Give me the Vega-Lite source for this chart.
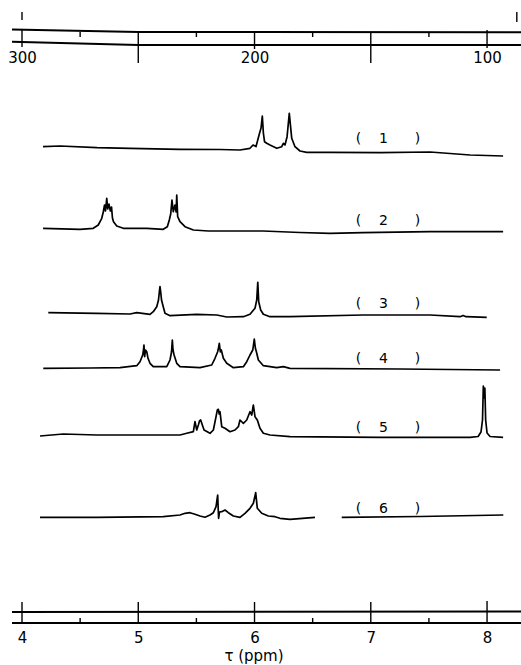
{
  "$schema": "https://vega.github.io/schema/vega-lite/v6.json",
  "width": 509,
  "height": 593,
  "padding": {"left": 12, "top": 30, "right": 0, "bottom": 42},
  "autosize": {"type": "none"},
  "background": "white",
  "config": {"view": {"stroke": null}, "font": "DejaVu Sans"},
  "datasets": {
    "spectra": [
      {"seg":"1","tau":4.181,"v":476.3},{"seg":"1","tau":4.327,"v":477},{"seg":"1","tau":4.645,"v":475.3},{"seg":"1","tau":4.929,"v":474.7},{"seg":"1","tau":5.359,"v":473.7},{"seg":"1","tau":5.703,"v":473.5},{"seg":"1","tau":5.875,"v":473},{"seg":"1","tau":5.961,"v":474.7},{"seg":"1","tau":5.987,"v":478},{"seg":"1","tau":6.013,"v":476.5},{"seg":"1","tau":6.039,"v":488},{"seg":"1","tau":6.056,"v":495},{"seg":"1","tau":6.067,"v":507},{"seg":"1","tau":6.076,"v":490},{"seg":"1","tau":6.086,"v":481.3},{"seg":"1","tau":6.105,"v":479.7},{"seg":"1","tau":6.133,"v":478},{"seg":"1","tau":6.191,"v":474.7},{"seg":"1","tau":6.234,"v":476.3},{"seg":"1","tau":6.248,"v":479.7},{"seg":"1","tau":6.262,"v":478},{"seg":"1","tau":6.28,"v":486.3},{"seg":"1","tau":6.299,"v":509.7},{"seg":"1","tau":6.32,"v":484.7},{"seg":"1","tau":6.348,"v":476.3},{"seg":"1","tau":6.391,"v":472},{"seg":"1","tau":6.449,"v":470.7},{"seg":"1","tau":6.649,"v":470.7},{"seg":"1","tau":7.08,"v":470.3},{"seg":"1","tau":7.51,"v":471},{"seg":"1","tau":7.854,"v":468},{"seg":"1","tau":8.138,"v":467},
      {"seg":"2","tau":4.181,"v":394.7},{"seg":"2","tau":4.499,"v":393.7},{"seg":"2","tau":4.613,"v":394.7},{"seg":"2","tau":4.656,"v":398},{"seg":"2","tau":4.686,"v":404.7},{"seg":"2","tau":4.699,"v":411},{"seg":"2","tau":4.71,"v":418},{"seg":"2","tau":4.718,"v":412},{"seg":"2","tau":4.729,"v":424.7},{"seg":"2","tau":4.737,"v":414},{"seg":"2","tau":4.748,"v":419},{"seg":"2","tau":4.76,"v":412},{"seg":"2","tau":4.77,"v":416},{"seg":"2","tau":4.778,"v":405},{"seg":"2","tau":4.787,"v":401.3},{"seg":"2","tau":4.815,"v":397},{"seg":"2","tau":4.871,"v":394.7},{"seg":"2","tau":5.073,"v":394.7},{"seg":"2","tau":5.215,"v":393.7},{"seg":"2","tau":5.25,"v":396.3},{"seg":"2","tau":5.267,"v":403},{"seg":"2","tau":5.279,"v":409},{"seg":"2","tau":5.29,"v":423},{"seg":"2","tau":5.301,"v":411.3},{"seg":"2","tau":5.316,"v":418},{"seg":"2","tau":5.326,"v":411},{"seg":"2","tau":5.331,"v":428},{"seg":"2","tau":5.339,"v":406.3},{"seg":"2","tau":5.359,"v":401.3},{"seg":"2","tau":5.402,"v":396.3},{"seg":"2","tau":5.474,"v":393},{"seg":"2","tau":5.603,"v":392},{"seg":"2","tau":6.073,"v":392},{"seg":"2","tau":6.391,"v":390.5},{"seg":"2","tau":6.649,"v":389.7},{"seg":"2","tau":6.933,"v":390.3},{"seg":"2","tau":7.51,"v":391.3},{"seg":"2","tau":8.138,"v":391.3},
      {"seg":"3","tau":4.226,"v":310.3},{"seg":"3","tau":4.643,"v":309.7},{"seg":"3","tau":4.929,"v":309},{"seg":"3","tau":4.987,"v":310.3},{"seg":"3","tau":5.101,"v":308.7},{"seg":"3","tau":5.129,"v":311.3},{"seg":"3","tau":5.159,"v":316.3},{"seg":"3","tau":5.174,"v":323},{"seg":"3","tau":5.183,"v":333},{"seg":"3","tau":5.187,"v":336.3},{"seg":"3","tau":5.193,"v":331},{"seg":"3","tau":5.2,"v":323},{"seg":"3","tau":5.215,"v":316.3},{"seg":"3","tau":5.23,"v":309.7},{"seg":"3","tau":5.273,"v":307.3},{"seg":"3","tau":5.503,"v":308.7},{"seg":"3","tau":5.675,"v":308},{"seg":"3","tau":5.761,"v":306},{"seg":"3","tau":5.904,"v":306.3},{"seg":"3","tau":5.961,"v":308.7},{"seg":"3","tau":6.004,"v":314.7},{"seg":"3","tau":6.019,"v":323},{"seg":"3","tau":6.028,"v":340.7},{"seg":"3","tau":6.036,"v":321.3},{"seg":"3","tau":6.053,"v":313},{"seg":"3","tau":6.076,"v":308.7},{"seg":"3","tau":6.133,"v":306.3},{"seg":"3","tau":6.305,"v":306.3},{"seg":"3","tau":6.933,"v":308},{"seg":"3","tau":7.51,"v":308},{"seg":"3","tau":7.768,"v":306.3},{"seg":"3","tau":7.794,"v":307.5},{"seg":"3","tau":7.819,"v":306.3},{"seg":"3","tau":7.997,"v":305.7},
      {"seg":"4","tau":4.183,"v":254.7},{"seg":"4","tau":4.585,"v":255},{"seg":"4","tau":4.843,"v":255.3},{"seg":"4","tau":4.987,"v":257.3},{"seg":"4","tau":5.015,"v":261.3},{"seg":"4","tau":5.038,"v":268},{"seg":"4","tau":5.045,"v":273},{"seg":"4","tau":5.049,"v":278},{"seg":"4","tau":5.055,"v":266.3},{"seg":"4","tau":5.062,"v":273},{"seg":"4","tau":5.073,"v":271.3},{"seg":"4","tau":5.084,"v":264.7},{"seg":"4","tau":5.101,"v":259.7},{"seg":"4","tau":5.129,"v":256.3},{"seg":"4","tau":5.245,"v":256.3},{"seg":"4","tau":5.273,"v":263},{"seg":"4","tau":5.286,"v":271},{"seg":"4","tau":5.293,"v":283},{"seg":"4","tau":5.299,"v":273},{"seg":"4","tau":5.308,"v":268},{"seg":"4","tau":5.331,"v":259.7},{"seg":"4","tau":5.359,"v":256.3},{"seg":"4","tau":5.531,"v":255.3},{"seg":"4","tau":5.632,"v":258},{"seg":"4","tau":5.66,"v":264.7},{"seg":"4","tau":5.683,"v":271.3},{"seg":"4","tau":5.69,"v":275},{"seg":"4","tau":5.697,"v":279.7},{"seg":"4","tau":5.706,"v":271},{"seg":"4","tau":5.714,"v":273},{"seg":"4","tau":5.732,"v":264.7},{"seg":"4","tau":5.761,"v":259.7},{"seg":"4","tau":5.818,"v":255.3},{"seg":"4","tau":5.904,"v":256.3},{"seg":"4","tau":5.933,"v":261.3},{"seg":"4","tau":5.961,"v":268},{"seg":"4","tau":5.985,"v":273},{"seg":"4","tau":5.998,"v":284},{"seg":"4","tau":6.007,"v":275},{"seg":"4","tau":6.016,"v":271.3},{"seg":"4","tau":6.033,"v":263},{"seg":"4","tau":6.076,"v":257.3},{"seg":"4","tau":6.191,"v":255.3},{"seg":"4","tau":6.248,"v":256.3},{"seg":"4","tau":6.305,"v":254.7},{"seg":"4","tau":7.252,"v":254},{"seg":"4","tau":8.112,"v":253},
      {"seg":"5","tau":4.155,"v":187},{"seg":"5","tau":4.355,"v":189},{"seg":"5","tau":4.643,"v":188},{"seg":"5","tau":5.213,"v":188},{"seg":"5","tau":5.359,"v":188},{"seg":"5","tau":5.417,"v":189.7},{"seg":"5","tau":5.474,"v":191.3},{"seg":"5","tau":5.488,"v":201.3},{"seg":"5","tau":5.503,"v":193},{"seg":"5","tau":5.517,"v":198},{"seg":"5","tau":5.527,"v":202},{"seg":"5","tau":5.537,"v":203},{"seg":"5","tau":5.551,"v":198},{"seg":"5","tau":5.566,"v":193},{"seg":"5","tau":5.617,"v":189.7},{"seg":"5","tau":5.646,"v":193},{"seg":"5","tau":5.669,"v":206.3},{"seg":"5","tau":5.68,"v":213},{"seg":"5","tau":5.689,"v":213.7},{"seg":"5","tau":5.696,"v":209},{"seg":"5","tau":5.703,"v":211.3},{"seg":"5","tau":5.718,"v":196.3},{"seg":"5","tau":5.746,"v":194.7},{"seg":"5","tau":5.789,"v":191.3},{"seg":"5","tau":5.832,"v":193},{"seg":"5","tau":5.861,"v":196.3},{"seg":"5","tau":5.875,"v":203},{"seg":"5","tau":5.904,"v":199.7},{"seg":"5","tau":5.933,"v":203},{"seg":"5","tau":5.961,"v":211.3},{"seg":"5","tau":5.976,"v":208},{"seg":"5","tau":5.99,"v":218},{"seg":"5","tau":6.004,"v":206.3},{"seg":"5","tau":6.024,"v":203},{"seg":"5","tau":6.047,"v":194.7},{"seg":"5","tau":6.076,"v":189.7},{"seg":"5","tau":6.133,"v":188},{"seg":"5","tau":6.305,"v":186.3},{"seg":"5","tau":7.08,"v":185.7},{"seg":"5","tau":7.854,"v":185.7},{"seg":"5","tau":7.923,"v":186.5},{"seg":"5","tau":7.948,"v":191},{"seg":"5","tau":7.961,"v":203},{"seg":"5","tau":7.968,"v":237},{"seg":"5","tau":7.976,"v":225},{"seg":"5","tau":7.981,"v":235},{"seg":"5","tau":7.988,"v":203},{"seg":"5","tau":8.0,"v":190},{"seg":"5","tau":8.026,"v":186.5},{"seg":"5","tau":8.138,"v":185.7},
      {"seg":"6a","tau":4.155,"v":105.7},{"seg":"6a","tau":4.643,"v":105.7},{"seg":"6a","tau":5.215,"v":106.3},{"seg":"6a","tau":5.359,"v":108},{"seg":"6a","tau":5.402,"v":109.7},{"seg":"6a","tau":5.445,"v":110.3},{"seg":"6a","tau":5.488,"v":108.7},{"seg":"6a","tau":5.531,"v":107},{"seg":"6a","tau":5.574,"v":105.7},{"seg":"6a","tau":5.617,"v":108},{"seg":"6a","tau":5.646,"v":110.3},{"seg":"6a","tau":5.669,"v":116.3},{"seg":"6a","tau":5.683,"v":128},{"seg":"6a","tau":5.691,"v":104.7},{"seg":"6a","tau":5.699,"v":111},{"seg":"6a","tau":5.718,"v":111.3},{"seg":"6a","tau":5.746,"v":113},{"seg":"6a","tau":5.775,"v":110.3},{"seg":"6a","tau":5.818,"v":107},{"seg":"6a","tau":5.875,"v":105.7},{"seg":"6a","tau":5.918,"v":109.7},{"seg":"6a","tau":5.961,"v":114.7},{"seg":"6a","tau":5.99,"v":119.7},{"seg":"6a","tau":6.01,"v":130.3},{"seg":"6a","tau":6.024,"v":114.7},{"seg":"6a","tau":6.062,"v":109.7},{"seg":"6a","tau":6.119,"v":107},{"seg":"6a","tau":6.176,"v":106.3},{"seg":"6a","tau":6.219,"v":104.7},{"seg":"6a","tau":6.305,"v":103.7},{"seg":"6a","tau":6.52,"v":105.7},
      {"seg":"6b","tau":6.75,"v":105.7},{"seg":"6b","tau":7.424,"v":106.5},{"seg":"6b","tau":8.14,"v":108}
    ],
    "axlines": [
      {"g":"t1","tau":3.914,"v":593.5},{"g":"t1","tau":5.0,"v":591},{"g":"t1","tau":8.292,"v":590.7},
      {"g":"t2","tau":3.914,"v":581.3},{"g":"t2","tau":5.0,"v":578},{"g":"t2","tau":8.292,"v":578},
      {"g":"b1","tau":3.914,"v":11},{"g":"b1","tau":8.292,"v":11.5},
      {"g":"b2","tau":3.914,"v":0},{"g":"b2","tau":8.292,"v":0}
    ],
    "bticks": [
      {"tau":4,"v1":0,"v2":21},{"tau":5,"v1":0,"v2":21},{"tau":6,"v1":0,"v2":21},{"tau":7,"v1":0,"v2":21},{"tau":8,"v1":0,"v2":22},
      {"tau":4.5,"v1":0,"v2":5},{"tau":5.5,"v1":0,"v2":5},{"tau":6.5,"v1":0,"v2":5},{"tau":7.5,"v1":0,"v2":5}
    ],
    "labels": [
      {"tau":7.148,"v":484,"label":"(\u00a0\u00a0\u00a0\u00a01\u00a0\u00a0\u00a0\u00a0\u00a0\u00a0)"},
      {"tau":7.148,"v":402,"label":"(\u00a0\u00a0\u00a0\u00a02\u00a0\u00a0\u00a0\u00a0\u00a0\u00a0)"},
      {"tau":7.148,"v":319,"label":"(\u00a0\u00a0\u00a0\u00a03\u00a0\u00a0\u00a0\u00a0\u00a0\u00a0)"},
      {"tau":7.148,"v":264,"label":"(\u00a0\u00a0\u00a0\u00a04\u00a0\u00a0\u00a0\u00a0\u00a0\u00a0)"},
      {"tau":7.148,"v":195.5,"label":"(\u00a0\u00a0\u00a0\u00a05\u00a0\u00a0\u00a0\u00a0\u00a0\u00a0)"},
      {"tau":7.148,"v":114,"label":"(\u00a0\u00a0\u00a0\u00a06\u00a0\u00a0\u00a0\u00a0\u00a0\u00a0)"}
    ],
    "hzticks": [
      {"hz":300,"v1":576,"v2":594},{"hz":250,"v1":560,"v2":591},{"hz":200,"v1":574,"v2":591},{"hz":150,"v1":560,"v2":591},{"hz":100,"v1":575,"v2":593},
      {"hz":275,"v1":586,"v2":591},{"hz":225,"v1":586,"v2":591},{"hz":175,"v1":586,"v2":591},{"hz":125,"v1":586,"v2":591},
      {"hz":300,"v1":603,"v2":611},{"hz":87.2,"v1":601,"v2":611}
    ]
  },
  "layer": [
    {
      "layer": [
        {
          "data": {"name": "spectra"},
          "mark": {"type": "line", "color": "black", "strokeWidth": 1.7, "strokeJoin": "round"},
          "encoding": {
            "x": {"field": "tau", "type": "quantitative",
              "scale": {"domain": [3.914, 8.292], "nice": false, "zero": false},
              "axis": {"orient": "bottom", "values": [4,5,6,7,8], "format": "d", "domain": false, "ticks": false, "grid": false,
                "labelPadding": 19, "labelBaseline": "alphabetic", "labelFontSize": 15, "labelFont": "DejaVu Sans", "labelColor": "black",
                "labelFlush": false, "labelOverlap": false,
                "title": "τ (ppm)", "titleFontSize": 15, "titleFont": "DejaVu Sans", "titleFontWeight": "normal", "titleColor": "black",
                "titleX": 241.5, "titleY": 37.5, "titleBaseline": "alphabetic", "titleAlign": "center"}},
            "y": {"field": "v", "type": "quantitative", "scale": {"domain": [0, 593], "nice": false, "zero": false}, "axis": null},
            "detail": {"field": "seg"}
          }
        },
        {
          "data": {"name": "axlines"},
          "mark": {"type": "line", "color": "black", "strokeWidth": 2},
          "encoding": {
            "x": {"field": "tau", "type": "quantitative"},
            "y": {"field": "v", "type": "quantitative", "axis": null},
            "detail": {"field": "g"}
          }
        },
        {
          "data": {"name": "bticks"},
          "mark": {"type": "rule", "color": "black", "strokeWidth": 1.4},
          "encoding": {
            "x": {"field": "tau", "type": "quantitative"},
            "y": {"field": "v1", "type": "quantitative", "axis": null},
            "y2": {"field": "v2"}
          }
        },
        {
          "data": {"name": "labels"},
          "mark": {"type": "text", "color": "black", "fontSize": 14, "font": "DejaVu Sans", "align": "center", "baseline": "middle"},
          "encoding": {
            "x": {"field": "tau", "type": "quantitative"},
            "y": {"field": "v", "type": "quantitative", "axis": null},
            "text": {"field": "label"}
          }
        }
      ]
    },
    {
      "data": {"name": "hzticks"},
      "mark": {"type": "rule", "color": "black", "strokeWidth": 1.4},
      "encoding": {
        "x": {"field": "hz", "type": "quantitative",
          "scale": {"domain": [85.4, 304.3], "reverse": true, "nice": false, "zero": false},
          "axis": {"orient": "top", "values": [300,200,100], "format": "d", "domain": false, "ticks": false, "grid": false,
            "labelPadding": -32, "labelBaseline": "alphabetic", "labelFontSize": 15, "labelFont": "DejaVu Sans", "labelColor": "black",
            "labelFlush": false, "labelOverlap": false, "title": null}},
        "y": {"field": "v1", "type": "quantitative", "axis": null},
        "y2": {"field": "v2"}
      }
    }
  ],
  "resolve": {"scale": {"x": "independent"}, "axis": {"x": "independent"}}
}
